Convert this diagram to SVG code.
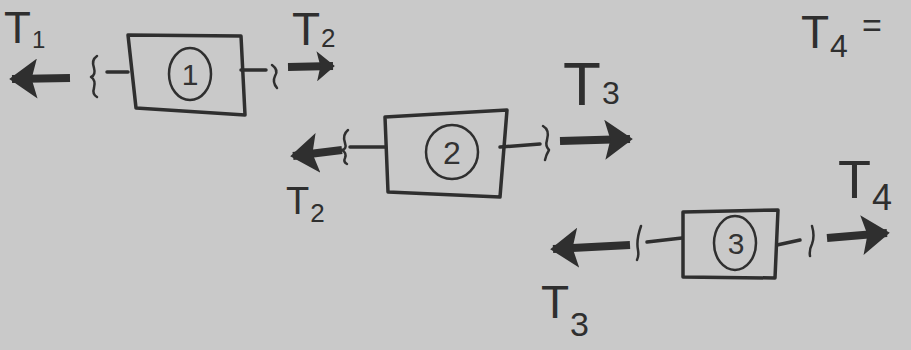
<svg xmlns="http://www.w3.org/2000/svg" width="911" height="350" viewBox="0 0 911 350">
<defs>
<style>
.ink{stroke:#2f2f2f;fill:none;stroke-linecap:round;stroke-linejoin:round}
.box{stroke-width:3.5}
.circ{stroke-width:2.5}
.stub{stroke-width:3.5}
.sq{stroke-width:2.5}
.shaft{stroke-width:8;stroke-linecap:butt}
.num{font-family:"Liberation Sans",Arial,sans-serif;fill:#333;text-anchor:middle}
.lbl{font-family:"Liberation Sans",Arial,sans-serif;fill:#2f2f2f}
</style>
<marker id="head" viewBox="0 0 10 10" refX="9" refY="5" markerWidth="28" markerHeight="40" orient="auto" markerUnits="userSpaceOnUse" preserveAspectRatio="none">
<path d="M0,0 L10,5 L0,10 L2,5 Z" fill="#2f2f2f"/>
</marker>
<marker id="headS" viewBox="0 0 10 10" refX="9" refY="5" markerWidth="18" markerHeight="30" orient="auto" markerUnits="userSpaceOnUse" preserveAspectRatio="none">
<path d="M0,0 L10,5 L0,10 L2,5 Z" fill="#2f2f2f"/>
</marker>
</defs>
<rect width="911" height="350" fill="#c9c9c9"/>

<g id="block1">
<polygon class="ink box" points="128,35 241,36 245,115 136,108"/>
<ellipse class="ink circ" cx="190" cy="74" rx="21" ry="26"/>
<text class="num" x="190" y="85" font-size="30">1</text>
</g>
<g id="block2">
<polygon class="ink box" points="385,117 507,110 500,197 388,192"/>
<ellipse class="ink circ" cx="452" cy="152" rx="26" ry="27"/>
<text class="num" x="452" y="164" font-size="32">2</text>
</g>
<g id="block3">
<polygon class="ink box" points="683,212 778,210 775,278 683,277"/>
<ellipse class="ink circ" cx="735" cy="243" rx="21" ry="27"/>
<text class="num" x="736" y="254" font-size="30">3</text>
</g>

<g id="connectors">
<path class="ink stub" d="M107,72 L128,72"/>
<path class="ink sq" d="M97,56 Q91,60 94,68 Q96,75 91,77 Q96,80 94,88 Q92,94 97,97"/>
<path class="ink shaft" d="M70,78 L12,79" marker-end="url(#head)"/>
<path class="ink stub" d="M241,70 L266,70"/>
<path class="ink sq" d="M272,65 Q279,70 275,76 Q272,82 277,88"/>
<path class="ink shaft" d="M288,67 L333,66" stroke-width="7" marker-end="url(#headS)"/>
<path class="ink stub" d="M350,147 L385,147"/>
<path class="ink sq" d="M348,130 Q342,135 345,143 Q347,149 342,150 Q347,153 345,158 Q343,162 347,164"/>
<path class="ink shaft" d="M342,150 L293,156" marker-end="url(#head)"/>
<path class="ink stub" d="M500,147 L540,144"/>
<path class="ink sq" d="M543,126 Q550,130 547,140 Q545,146 549,150 Q546,155 545,160"/>
<path class="ink shaft" d="M560,141 L630,139" marker-end="url(#head)"/>
<path class="ink stub" d="M647,242 L682,238"/>
<path class="ink sq" d="M641,226 Q636,240 638,250 Q639,256 637,260"/>
<path class="ink shaft" d="M630,245 L553,249" marker-end="url(#head)"/>
<path class="ink stub" d="M777,245 L800,240"/>
<path class="ink sq" d="M812,226 Q815,236 812,244 Q809,250 810,256"/>
<path class="ink shaft" d="M827,238 L887,233" marker-end="url(#head)"/>
</g>

<g id="labels">
<text class="lbl" x="4" y="43" font-size="44">T<tspan font-size="24" dx="1" dy="5">1</tspan></text>
<text class="lbl" x="292" y="45" font-size="46">T<tspan font-size="26" dx="1" dy="2">2</tspan></text>
<text class="lbl" x="563" y="105" font-size="62">T<tspan font-size="32" dx="1" dy="-1">3</tspan></text>
<text class="lbl" x="286" y="214" font-size="38">T<tspan font-size="26" dx="1" dy="8">2</tspan></text>
<text class="lbl" x="838" y="198" font-size="54">T<tspan font-size="36" dx="1" dy="12">4</tspan></text>
<text class="lbl" x="541" y="318" font-size="46">T<tspan font-size="34" dx="1" dy="18">3</tspan></text>
<text class="lbl" x="801" y="48" font-size="46">T<tspan font-size="32" dx="1" dy="9">4</tspan><tspan font-size="34" dx="14" dy="-20">=</tspan></text>
</g>
</svg>
